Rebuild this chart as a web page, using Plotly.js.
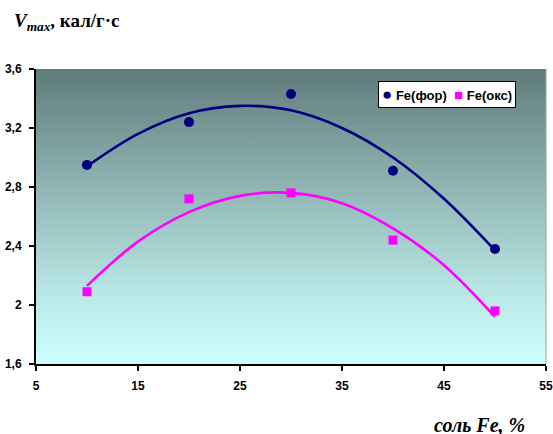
<!DOCTYPE html>
<html>
<head>
<meta charset="utf-8">
<script src="https://cdn.plot.ly/plotly-3.0.1.min.js"></script>
<style>
  html, body { margin: 0; padding: 0; background: #ffffff; }
  #wrap { position: relative; width: 553px; height: 434px; }
  #bg { position: absolute; left: 36px; top: 69px; width: 510px; height: 295px;
        background: linear-gradient(to bottom, #5f7b7a 0%, #8fb5b3 40%, #b8e6e4 75%, #ccffff 100%); }
  #chart { position: absolute; left: 0; top: 0; width: 553px; height: 434px; }
</style>
</head>
<body>
<div id="wrap"><div id="bg"></div><div id="chart"></div></div>
<script>
// Data
const saltFe = [10, 20, 30, 40, 50];
const feFor = [2.95, 3.24, 3.43, 2.91, 2.38];
const feOks = [2.09, 2.72, 2.76, 2.44, 1.96];

// Trend curves
const trendX = [10, 15, 20, 25, 30, 35, 40, 45, 50];
const trendFor = [2.94, 3.16, 3.30, 3.35, 3.32, 3.20, 3.00, 2.72, 2.37];
const trendOks = [2.13, 2.43, 2.63, 2.74, 2.76, 2.69, 2.52, 2.27, 1.92];

const xTicks = [5, 15, 25, 35, 45, 55];
const xTickText = ['5', '15', '25', '35', '45', '55'];
const yTicks = [1.6, 2, 2.4, 2.8, 3.2, 3.6];
const yTickText = ['1,6', '2', '2,4', '2,8', '3,2', '3,6'];

const seriesNames = ['Fe(фор)', 'Fe(окс)'];

const navy = '#000080';
const magenta = '#ff00ff';

const traces = [
  { x: trendX, y: trendFor, mode: 'lines', line: { color: navy, width: 2.6, shape: 'spline' }, showlegend: false, hoverinfo: 'skip' },
  { x: trendX, y: trendOks, mode: 'lines', line: { color: magenta, width: 2.6, shape: 'spline' }, showlegend: false, hoverinfo: 'skip' },
  { x: saltFe, y: feFor, mode: 'markers', name: seriesNames[0], showlegend: false, marker: { symbol: 'circle', size: 10, color: navy } },
  { x: saltFe, y: feOks, mode: 'markers', name: seriesNames[1], showlegend: false, marker: { symbol: 'square', size: 9, color: magenta } }
];

const tickFont = { family: 'Liberation Sans, Arial, sans-serif', size: 12, color: '#000000', weight: 'bold' };

const legendText =
  '<span style="color:' + navy + ';font-size:17px">●</span> ' + seriesNames[0] +
  '  <span style="color:' + magenta + ';font-size:15px">■</span> ' + seriesNames[1];

const layout = {
  width: 553, height: 434,
  margin: { l: 36, r: 7, t: 69, b: 70, autoexpand: false },
  paper_bgcolor: 'rgba(0,0,0,0)',
  plot_bgcolor: 'rgba(0,0,0,0)',
  showlegend: false,
  xaxis: {
    range: [5, 55], tickvals: xTicks, ticktext: xTickText,
    showgrid: false, zeroline: false, automargin: false,
    showline: true, linecolor: '#000000', linewidth: 2,
    ticks: 'outside', ticklen: 5, tickwidth: 2, tickcolor: '#000000',
    ticklabelstandoff: 5,
    tickfont: tickFont, fixedrange: true
  },
  yaxis: {
    range: [1.6, 3.6], tickvals: yTicks, ticktext: yTickText,
    showgrid: false, zeroline: false, automargin: false,
    showline: true, linecolor: '#000000', linewidth: 2,
    ticks: 'outside', ticklen: 5, tickwidth: 2, tickcolor: '#000000',
    ticklabelstandoff: 5,
    tickfont: tickFont, fixedrange: true
  },
  shapes: [
    { type: 'line', xref: 'paper', yref: 'paper', x0: 1, x1: 1, y0: 0, y1: 1, line: { color: '#a0a0a0', width: 1 } }
  ],
  annotations: [
    {
      xref: 'paper', yref: 'paper', x: 0.805, y: 0.912, xanchor: 'center', yanchor: 'middle', showarrow: false,
      text: legendText, bgcolor: '#ffffff', bordercolor: '#000000', borderwidth: 1, borderpad: 3,
      font: { family: 'Liberation Sans, Arial, sans-serif', size: 13, color: '#000000', weight: 'bold' }
    },
    {
      xref: 'paper', yref: 'paper', x: -0.047, y: 1.207, xanchor: 'left', yanchor: 'top', showarrow: false,
      text: '<b><i>V</i></b><sub><b><i>max</i></b></sub><b>, кал/г·с</b>',
      font: { family: 'Liberation Serif, Times New Roman, serif', size: 19, color: '#000000' }
    },
    {
      xref: 'paper', yref: 'paper', x: 0.963, y: -0.163, xanchor: 'right', yanchor: 'top', showarrow: false,
      text: '<b><i>соль Fe, %</i></b>',
      font: { family: 'Liberation Serif, Times New Roman, serif', size: 20, color: '#000000' }
    }
  ]
};

Plotly.newPlot('chart', traces, layout, { displayModeBar: false, staticPlot: true });
</script>
</body>
</html>
